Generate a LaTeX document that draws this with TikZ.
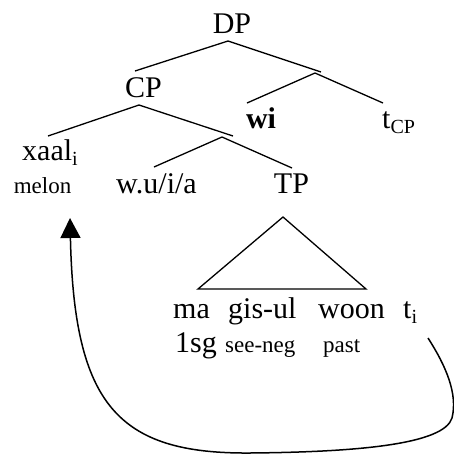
\documentclass[tikz,border=0pt]{standalone}
\usepackage{fontspec}
\setmainfont{Liberation Serif}
\usetikzlibrary{arrows.meta}
\newcommand{\mysub}[1]{\raisebox{-5pt}{\fontsize{20}{22}\selectfont #1}}
\begin{document}
\begin{tikzpicture}[x=1pt,y=-1pt,
  big/.style={inner sep=0pt,font=\fontsize{30}{36}\selectfont},
  small/.style={inner sep=0pt,font=\fontsize{23}{27}\selectfont},
  branch/.style={line width=1.3pt},
  move/.style={line width=1.5pt,-{Triangle[width=20pt,length=20pt]}}]
\useasboundingbox (0,0) rectangle (454,456);
% labels
\node[big,anchor=base] (dp) at (232,33) {DP};
\node[big,anchor=base] (cp) at (143.5,97) {CP};
\node[big,anchor=base] (wi) at (261,128) {\textbf{wi}};
\node[big,anchor=base west] (tcp) at (382,128) {t\mysub{CP}};
\node[big,anchor=base west] (xaal) at (22,160) {xaal\mysub{i}};
\node[small,anchor=base] (melon) at (42.5,193) {melon};
\node[big,anchor=base] (wua) at (156.5,193) {w.u/i/a};
\node[big,anchor=base] (tp) at (291.5,193) {TP};
\node[big,anchor=base west] (ma) at (173,318) {ma};
\node[big,anchor=base west] (gisul) at (228,318) {gis-ul};
\node[big,anchor=base west] (woon) at (318,318) {woon};
\node[big,anchor=base west] (ti) at (403,318) {t\mysub{i}};
\node[big,anchor=base west] (sg) at (175,352) {1sg};
\node[small,anchor=base west] (seeneg) at (225,352) {see-neg};
\node[small,anchor=base west] (past) at (323,352) {past};
% branch points
\coordinate (dpB) at (228,41);
\coordinate (cpT) at (135,71);
\coordinate (dbar) at (321,72);
\coordinate (dbarB) at (315,73);
\coordinate (wiT) at (247,103);
\coordinate (tcpT) at (383,103);
\coordinate (cpB) at (139,105);
\coordinate (xaalT) at (48,136);
\coordinate (cbar) at (233,136);
\coordinate (cbarB) at (222,137);
\coordinate (wuaT) at (154,167);
\coordinate (tpT) at (292,168);
\coordinate (triA) at (283,217);
\coordinate (triL) at (198,289);
\coordinate (triR) at (366,289);
\coordinate (tiB) at (428,338);
\coordinate (r1) at (452,418);
\coordinate (bot) at (250,453);
\coordinate (xaalB) at (70,218);
% tree
\draw[branch] (cpT) -- (dpB) -- (dbar);
\draw[branch] (wiT) -- (dbarB) -- (tcpT);
\draw[branch] (xaalT) -- (cpB) -- (cbar);
\draw[branch] (wuaT) -- (cbarB) -- (tpT);
\draw[branch] (triA) -- (triL) -- (triR) -- cycle;
% movement arrow
\draw[move] (tiB) .. controls (446,366) and (458,394) .. (r1)
  .. controls (444,444) and (360,452) .. (bot)
  .. controls (118,454) and (74,405) .. (xaalB);
\end{tikzpicture}
\end{document}
